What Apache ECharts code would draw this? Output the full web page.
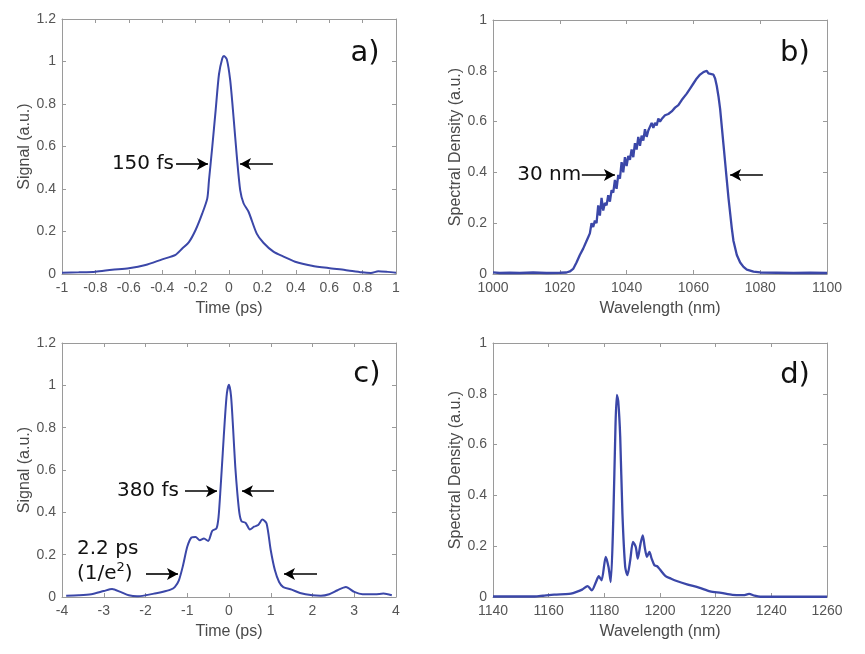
<!DOCTYPE html>
<html><head><meta charset="utf-8">
<script src="https://cdn.jsdelivr.net/npm/echarts@6/dist/echarts.min.js"></script>
<style>html,body{margin:0;padding:0;background:#fff}#c{width:865px;height:654px}</style>
</head><body><div id="c"></div>
<script>
// Panel a: autocorrelation (Time ps vs Signal)
const aX = [-1,-0.9,-0.8,-0.7,-0.6,-0.5,-0.4,-0.32,-0.28,-0.24,-0.2,-0.16,-0.13,-0.12,-0.1,-0.08,-0.06,-0.04,-0.03,-0.013,0.007,0.027,0.047,0.067,0.087,0.117,0.166,0.206,0.266,0.326,0.396,0.496,0.595,0.695,0.795,0.85,0.894,0.95,1];
const aY = [0.006,0.008,0.011,0.02,0.027,0.042,0.069,0.09,0.12,0.15,0.207,0.285,0.356,0.44,0.6,0.77,0.94,1.015,1.026,1.01,0.913,0.74,0.552,0.395,0.333,0.293,0.19,0.147,0.105,0.082,0.058,0.039,0.028,0.019,0.008,0.005,0.013,0.01,0.006];
// Panel b: spectrum (Wavelength nm vs Spectral Density)
const bX = [1000,1002,1005,1008,1012,1016,1020,1022,1023,1024,1025,1026,1027,1028,1028.5,
  1029,1029.5,1030,1030.5,1031,1031.5,1032,1032.5,1033,1033.5,1034,1034.5,1035,1035.5,1036,1036.5,1037,1037.5,1038,1038.5,1039,1039.5,1040,1040.5,1041,1041.5,1042,1042.5,1043,1043.5,1044,1044.5,1045,1045.5,1046,1046.5,1047,1047.5,1048,1048.5,1049,1049.5,1050,1050.5,1051,1051.5,1052,1052.5,1053,1053.5,1054,1054.5,1055,1055.5,1056,1056.5,1057,
  1058,1059,1060,1061,1062,1063,1063.5,1064,1064.5,1065,1066,1066.5,1067,1067.5,1068,1068.5,1069,1069.5,1070,1070.5,1071,1071.5,1072,1073,1074,1075,1076,1078,1080,1085,1090,1095,1100];
const bY = [0.006,0.004,0.005,0.004,0.006,0.004,0.005,0.006,0.01,0.02,0.045,0.075,0.1,0.13,0.145,
  0.16,0.2,0.185,0.21,0.2,0.27,0.23,0.3,0.25,0.28,0.27,0.31,0.285,0.33,0.32,0.37,0.335,0.39,0.375,0.44,0.4,0.46,0.425,0.465,0.45,0.49,0.46,0.515,0.49,0.54,0.505,0.545,0.525,0.57,0.54,0.565,0.56,0.595,0.575,0.595,0.585,0.612,0.6,0.61,0.605,0.625,0.618,0.63,0.632,0.64,0.645,0.655,0.652,0.665,0.672,0.685,0.69,
  0.71,0.73,0.75,0.77,0.785,0.795,0.79,0.8,0.79,0.795,0.785,0.77,0.74,0.7,0.65,0.58,0.51,0.44,0.37,0.3,0.24,0.18,0.13,0.075,0.045,0.028,0.017,0.009,0.006,0.005,0.004,0.005,0.004];
// Panel c: autocorrelation (Time ps vs Signal)
const cX = [-3.9,-3.6,-3.3,-3.0,-2.8,-2.6,-2.4,-2.2,-2.0,-1.8,-1.6,-1.4,-1.3,-1.2,-1.1,-1.0,-0.9,-0.8,-0.7,-0.6,-0.5,-0.4,-0.3,-0.25,-0.2,-0.15,-0.1,-0.05,0,0.05,0.1,0.15,0.2,0.25,0.3,0.4,0.5,0.6,0.7,0.8,0.9,1.0,1.1,1.2,1.3,1.5,1.7,2.0,2.2,2.4,2.6,2.8,3.0,3.2,3.5,3.7,3.9];
const cY = [0.006,0.008,0.013,0.028,0.038,0.024,0.008,0.003,0.008,0.016,0.024,0.035,0.047,0.079,0.15,0.237,0.281,0.284,0.268,0.276,0.265,0.313,0.324,0.379,0.521,0.679,0.837,0.963,1.003,0.947,0.79,0.616,0.49,0.395,0.358,0.35,0.319,0.332,0.34,0.366,0.347,0.221,0.126,0.071,0.047,0.035,0.019,0.008,0.006,0.013,0.032,0.047,0.024,0.013,0.013,0.016,0.008];
// Panel d: spectrum (Wavelength nm vs Spectral Density)
const dX = [1140,1145,1150,1155,1158,1162,1166,1168,1170,1172,1174,1175.5,1177,1178,1179,1180.5,1181.5,1182.3,1183.2,1184,1184.5,1185,1185.7,1186.5,1187.5,1188.3,1189.3,1190.3,1191.3,1192,1193,1193.8,1194.5,1195.3,1196.2,1197,1198,1199,1200,1202,1204,1206,1210,1214,1218,1222,1226,1230,1232,1234,1236,1240,1250,1260];
const dY = [0.002,0.002,0.002,0.002,0.005,0.009,0.011,0.013,0.02,0.029,0.043,0.026,0.059,0.082,0.066,0.158,0.118,0.059,0.3,0.67,0.796,0.77,0.632,0.329,0.118,0.086,0.145,0.217,0.197,0.151,0.21,0.243,0.197,0.158,0.178,0.151,0.125,0.121,0.108,0.082,0.072,0.063,0.049,0.037,0.022,0.016,0.008,0.007,0.012,0.005,0.001,0.001,0.001,0.001];

const xTicksA = {min:-1,max:1,interval:0.2};
const xTicksB = {min:1000,max:1100,interval:20};
const xTicksC = {min:-4,max:4,interval:1};
const xTicksD = {min:1140,max:1260,interval:20};
const yTicksAC = {min:0,max:1.2,interval:0.2};
const yTicksBD = {min:0,max:1,interval:0.2};

const pair = (xs, ys) => xs.map((x, i) => [x, ys[i]]);
const AX = '#9a9a9a', LBL = '#555', TTL = '#4a4a4a', LINE = '#3b47a8';
const TF = 'Liberation Sans, Arial, sans-serif';
const AF = 'DejaVu Sans, sans-serif';
const fmt = v => String(+(+v).toFixed(3));

const grids = [
  {left:62, top:19, width:334, height:255},
  {left:493, top:20, width:334, height:254},
  {left:62, top:343, width:334, height:254},
  {left:493, top:343, width:334, height:254}
];
const xr = [xTicksA, xTicksB, xTicksC, xTicksD];
const yr = [yTicksAC, yTicksBD, yTicksAC, yTicksBD];
const xNames = ['Time (ps)','Wavelength (nm)','Time (ps)','Wavelength (nm)'];
const yNames = ['Signal (a.u.)','Spectral Density (a.u.)','Signal (a.u.)','Spectral Density (a.u.)'];
const yGaps = [29, 28, 29, 28];

const xAxes = [], yAxes = [];
grids.forEach((g, i) => {
  const line = {show:true, onZero:false, lineStyle:{color:AX,width:1}};
  const tick = {show:true, inside:true, length:4, lineStyle:{color:AX}};
  xAxes.push(Object.assign({type:'value', gridIndex:i, position:'bottom',
    axisLine:line, axisTick:tick,
    axisLabel:{color:LBL,fontSize:14,fontFamily:TF,margin:7,formatter:fmt},
    splitLine:{show:false},
    name:xNames[i], nameLocation:'middle', nameGap:27,
    nameTextStyle:{color:TTL,fontSize:16,fontFamily:TF}}, xr[i]));
  xAxes.push(Object.assign({type:'value', gridIndex:i, position:'top',
    axisLine:line, axisTick:tick,
    axisLabel:{show:false}, splitLine:{show:false}}, xr[i]));
  yAxes.push(Object.assign({type:'value', gridIndex:i, position:'left',
    axisLine:line, axisTick:tick,
    axisLabel:{color:LBL,fontSize:14,fontFamily:TF,margin:6,formatter:fmt},
    splitLine:{show:false},
    name:yNames[i], nameLocation:'middle', nameGap:yGaps[i],
    nameTextStyle:{color:TTL,fontSize:16,fontFamily:TF}}, yr[i]));
  yAxes.push(Object.assign({type:'value', gridIndex:i, position:'right',
    axisLine:line, axisTick:tick,
    axisLabel:{show:false}, splitLine:{show:false}}, yr[i]));
});

function arrows(list) {
  return {silent:true, symbol:['none','arrow'], symbolSize:[9,11], animation:false,
    lineStyle:{color:'#000',width:1.6,type:'solid'}, label:{show:false},
    data:list.map(a => [{coord:[a[0],a[2]]},{coord:[a[1],a[2]]}])};
}
function texts(list) {
  return {silent:true, symbol:'circle', symbolSize:0, animation:false,
    data:list.map(t => ({coord:[t.x,t.y], label:{show:true, position:t.pos||'inside', distance:0,
      formatter:t.text, color:'#111', fontSize:t.size||20, fontFamily:AF,
      rich:{sup:{fontSize:13,fontFamily:AF,color:'#111',padding:[0,0,12,0]}}}}))};
}

const annotations = [
  {arrows:[[-0.317,-0.126,0.518],[0.263,0.066,0.518]],
   texts:[{x:-0.33,y:0.518,text:'150 fs',pos:'left'},{x:0.814,y:1.04,text:'a)',size:29}]},
  {arrows:[[1026.6,1036.5,0.39],[1080.8,1071,0.39]],
   texts:[{x:1026.4,y:0.39,text:'30 nm',pos:'left'},{x:1090.4,y:0.87,text:'b)',size:29}]},
  {arrows:[[-1.054,-0.287,0.50],[1.078,0.311,0.50],[-1.988,-1.222,0.109],[2.108,1.317,0.109]],
   texts:[{x:-1.2,y:0.50,text:'380 fs',pos:'left'},{x:-3.64,y:0.227,text:'2.2 ps',pos:'right'},
          {x:-3.64,y:0.109,text:'(1/e{sup|2})',pos:'right'},{x:3.305,y:1.049,text:'c)',size:29}]},
  {arrows:[], texts:[{x:1248.5,y:0.874,text:'d)',size:29}]}
];

const datas = [pair(aX,aY), pair(bX,bY), pair(cX,cY), pair(dX,dY)];
const series = datas.map((d, i) => ({
  type:'line', xAxisIndex:2*i, yAxisIndex:2*i, data:d, showSymbol:false, symbol:'none',
  smooth: (i===1) ? false : 0.25,
  lineStyle:{color:LINE,width:(i%2===1)?2.3:2}, animation:false,
  markLine: annotations[i].arrows.length ? arrows(annotations[i].arrows) : undefined,
  markPoint: texts(annotations[i].texts)
}));

const chart = echarts.init(document.getElementById('c'), null, {renderer:'canvas'});
chart.setOption({backgroundColor:'#fff', animation:false, grid:grids, xAxis:xAxes, yAxis:yAxes, series:series});
</script></body></html>
